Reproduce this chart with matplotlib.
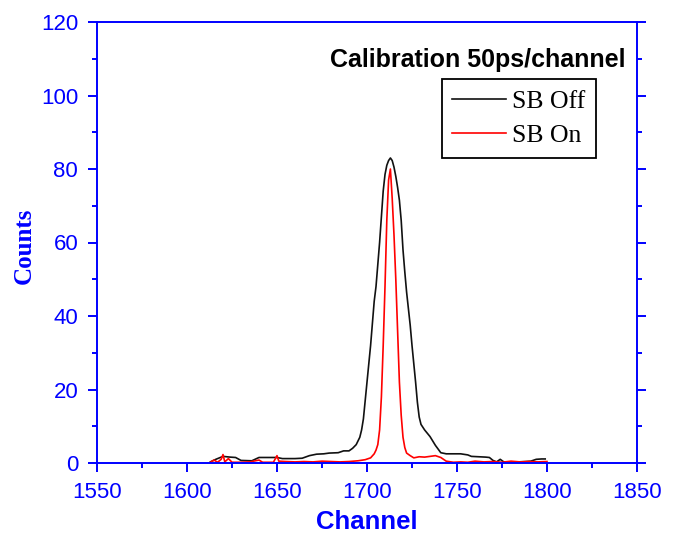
import matplotlib
matplotlib.use("Agg")
import matplotlib.pyplot as plt
from matplotlib.ticker import MultipleLocator

# ---- data ----
off_channel = [1613, 1616, 1620, 1624, 1627, 1630, 1636, 1640, 1646, 1650, 1653, 1660, 1664, 1668,
               1672, 1676, 1679, 1684, 1687, 1690, 1692, 1694, 1696, 1697, 1698, 1699, 1700, 1701,
               1702, 1703, 1704, 1705, 1706, 1707, 1708, 1709, 1710, 1711, 1712, 1713, 1714, 1715,
               1716, 1717, 1718, 1719, 1720, 1721, 1722, 1723, 1724, 1725, 1726, 1727, 1728, 1729,
               1730, 1732, 1735, 1738, 1741, 1744, 1748, 1752, 1756, 1758, 1762, 1766, 1768, 1770,
               1772, 1774, 1776, 1780, 1784, 1788, 1791, 1794, 1797, 1799]
off_counts = [0.3, 1.0, 1.8, 1.6, 1.5, 0.7, 0.6, 1.5, 1.5, 1.5, 1.2, 1.2, 1.3, 2.0,
              2.4, 2.5, 2.7, 2.8, 3.3, 3.3, 4.0, 5.0, 7.0, 9.0, 12.0, 17.0, 22.0, 27.0,
              32.0, 38.0, 44.0, 48.0, 54.0, 60.0, 67.0, 74.0, 78.5, 81.0, 82.3, 83.0, 82.3, 80.5,
              78.0, 75.0, 71.5, 66.0, 58.0, 52.0, 46.5, 42.0, 37.5, 32.0, 27.0, 22.0, 16.5, 12.5,
              10.5, 9.0, 7.2, 4.8, 2.8, 2.5, 2.5, 2.5, 2.2, 1.8, 1.7, 1.6, 1.5, 0.7,
              0.3, 1.0, 0.3, 0.2, 0.3, 0.4, 0.5, 1.0, 1.1, 1.1]

on_channel = [1613, 1615, 1617, 1619, 1620, 1621, 1623, 1625, 1630, 1635, 1640, 1642, 1648, 1650,
              1651, 1655, 1660, 1665, 1670, 1675, 1680, 1685, 1690, 1695, 1699, 1702, 1704, 1705,
              1706, 1707, 1708, 1709, 1710, 1711, 1712, 1713, 1714, 1715, 1716, 1717, 1718, 1719,
              1720, 1721, 1722, 1724, 1726, 1729, 1732, 1735, 1738, 1741, 1744, 1748, 1752, 1756,
              1760, 1765, 1770, 1775, 1780, 1785, 1790, 1795, 1800]
on_counts = [0.2, 0.8, 0.2, 1.0, 2.3, 0.3, 1.2, 0.2, 0.2, 0.3, 0.8, 0.2, 0.2, 2.0,
             0.5, 0.4, 0.3, 0.4, 0.3, 0.5, 0.4, 0.3, 0.4, 0.6, 0.9, 1.4, 2.5, 3.5,
             5.0, 9.0, 18.0, 32.0, 48.0, 66.0, 77.0, 80.0, 72.0, 62.0, 50.0, 36.0, 22.0, 13.0,
             7.0, 4.2, 2.7, 2.0, 1.4, 1.7, 1.6, 1.8, 2.0, 1.5, 0.5, 0.2, 0.3, 0.2,
             0.5, 0.3, 0.4, 0.2, 0.5, 0.3, 0.4, 0.3, 0.4]

series_labels = ["SB Off", "SB On"]
title_text = "Calibration 50ps/channel"
x_label = "Channel"
y_label = "Counts"

BLUE = "#0000FF"

fig = plt.figure(figsize=(6.77, 5.34), dpi=100)
W, H = 677, 534
ax = fig.add_axes([97 / W, 1 - 463 / H, (637 - 97) / W, (463 - 22) / H])

ax.plot(off_channel, off_counts, color="#111111", lw=1.2, label=series_labels[0])
ax.plot(on_channel, on_counts, color="#FF0000", lw=1.2, label=series_labels[1])

ax.set_xlim(1550, 1850)
ax.set_ylim(0, 120)
ax.xaxis.set_major_locator(MultipleLocator(50))
ax.xaxis.set_minor_locator(MultipleLocator(25))
ax.yaxis.set_major_locator(MultipleLocator(20))
ax.yaxis.set_minor_locator(MultipleLocator(10))

for sp in ax.spines.values():
    sp.set_color(BLUE)
    sp.set_linewidth(1.4)

ax.tick_params(which="both", direction="out", color=BLUE, width=1.4,
               top=False, right=True, labelright=False)
ax.tick_params(which="major", length=6.5, pad=7, labelsize=16, labelcolor=BLUE)
ax.tick_params(which="minor", length=3.8)
for lab in ax.get_xticklabels() + ax.get_yticklabels():
    lab.set_fontfamily("Liberation Sans")

fig.text(625 / W, 1 - 66.7 / H, title_text, ha="right", va="baseline",
         fontsize=18, fontweight="bold", family="Liberation Sans", color="black")
fig.text(367 / W, 1 - 529 / H, x_label, ha="center", va="baseline",
         fontsize=18.5, fontweight="bold", family="Liberation Sans", color=BLUE)
fig.text(24 / W, 1 - 245.5 / H, y_label, ha="center", va="center", rotation=90,
         fontsize=18, fontweight="bold", family="Liberation Serif", color=BLUE)

leg = ax.legend(loc="upper left", bbox_to_anchor=(441.7 / W, 1 - 79.3 / H),
                bbox_transform=fig.transFigure, borderaxespad=0,
                prop={"family": "Liberation Serif", "size": 18.5},
                handlelength=2.1, handletextpad=0.25, labelspacing=0.46,
                borderpad=0.4, fancybox=False, framealpha=1, edgecolor="black")
leg.get_frame().set_linewidth(1.3)

fig.savefig("out.png", dpi=100)
